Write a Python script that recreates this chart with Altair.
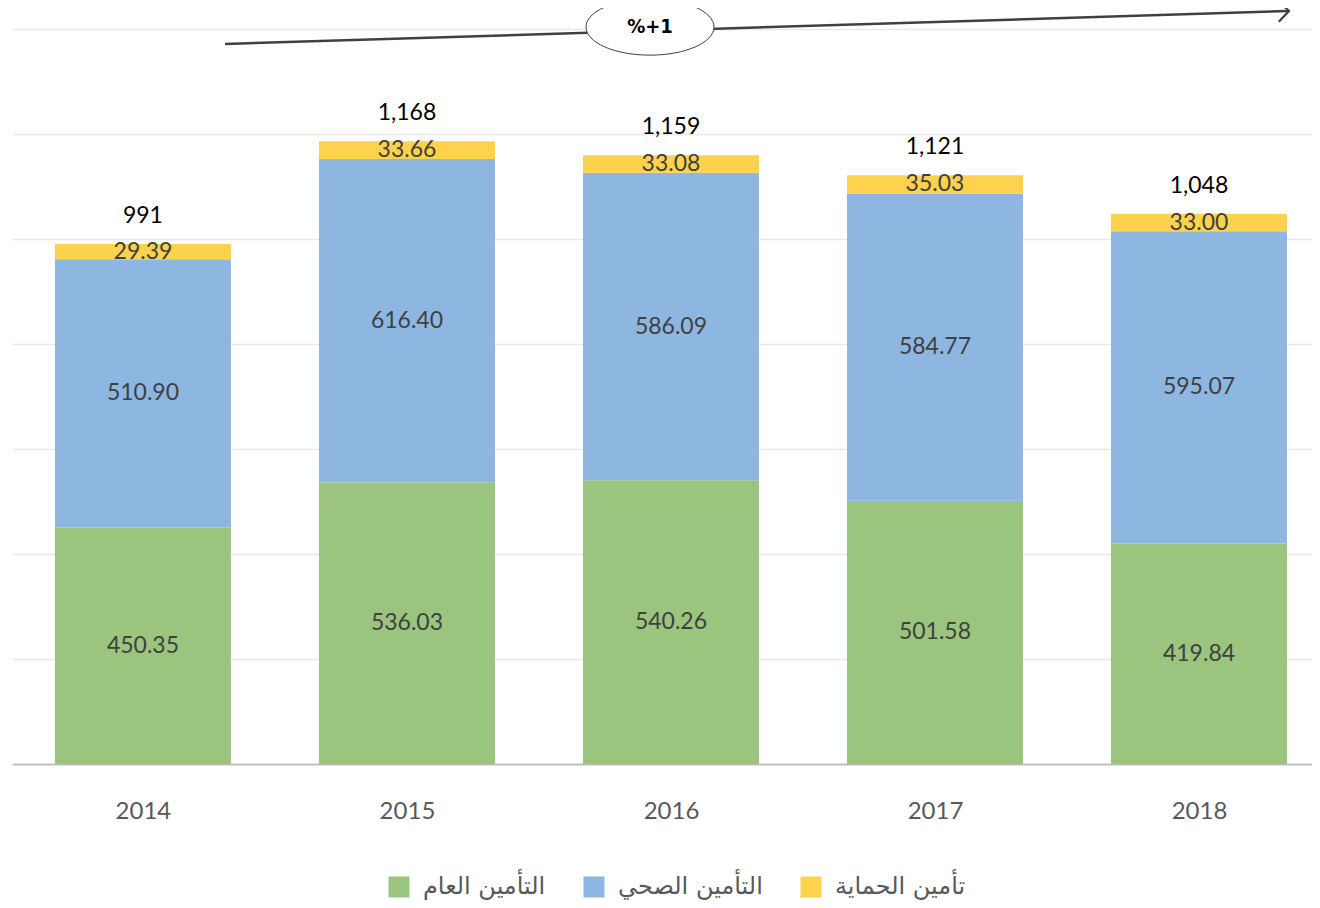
import altair as alt
import pandas as pd

years = [2014, 2015, 2016, 2017, 2018]
general = [450.35, 536.03, 540.26, 501.58, 419.84]
health = [510.90, 616.40, 586.09, 584.77, 595.07]
protection = [29.39, 33.66, 33.08, 35.03, 33.00]
total_labels = ["991", "1,168", "1,159", "1,121", "1,048"]

series_names = ["التأمين العام", "التأمين الصحي", "تأمين الحماية"]
series_colors = ["#9BC47E", "#8DB6E0", "#FFD24D"]

rows = []
for i, y in enumerate(years):
    for k, (name, vals) in enumerate(zip(series_names, [general, health, protection])):
        rows.append({"year": y, "series": name, "value": vals[i], "order": k})
df = pd.DataFrame(rows)

tot = pd.DataFrame({
    "year": years,
    "label": total_labels,
    "top": [g + h + p for g, h, p in zip(general, health, protection)],
})

W, H = 1300, 735

x_scale = alt.Scale(domain=[2013.504, 2018.428], nice=False, zero=False, padding=0)
x_enc = alt.X("year:Q", scale=x_scale,
              axis=alt.Axis(title=None, ticks=False, labelPadding=35, labelFontSize=24,
                            labelColor="#595959", labelFont="Lato", domainColor="#BFBFBF",
                            domainWidth=2, grid=False, labelAngle=0, format="d",
                            values=years, labelFlush=False))
y_scale = alt.Scale(domain=[0, 1400])

base = alt.Chart(df)

bars = base.mark_bar(size=176).encode(
    x=x_enc,
    y=alt.Y("value:Q", stack="zero", scale=y_scale,
            axis=alt.Axis(title=None, labels=False, ticks=False, domain=False,
                          grid=True, gridColor="#E8E8E8", gridWidth=1.5,
                          values=[200, 400, 600, 800, 1000, 1200, 1400])),
    color=alt.Color("series:N",
                    scale=alt.Scale(domain=series_names, range=series_colors),
                    legend=alt.Legend(title=None, orient="none", direction="horizontal",
                                      legendX=375, legendY=846, symbolType="square",
                                      symbolSize=440, symbolStrokeWidth=0,
                                      labelFontSize=24, labelFont="DejaVu Sans",
                                      labelColor="#595959", columnPadding=36,
                                      labelOffset=12, symbolOpacity=1)),
    order=alt.Order("order:Q", sort="ascending"),
)

seg_text = base.transform_stack(
    stack="value", groupby=["year"], as_=["y0", "y1"],
    sort=[alt.SortField("order", order="ascending")]
).transform_calculate(
    mid="(datum.y0 + datum.y1) / 2"
).mark_text(fontSize=23, font="Lato", color="#404040").encode(
    x=alt.X("year:Q", scale=x_scale),
    y=alt.Y("mid:Q", scale=y_scale),
    text=alt.Text("value:Q", format=".2f"),
)

tot_text = alt.Chart(tot).mark_text(fontSize=23, font="Lato", color="#000000", dy=-28).encode(
    x=alt.X("year:Q", scale=x_scale),
    y=alt.Y("top:Q", scale=y_scale),
    text="label:N",
)

one = pd.DataFrame({"t": ["%+1"]})
arrow_line = alt.Chart(one).mark_rule(color="#404040", strokeWidth=2.5).encode(
    x=alt.value(213), x2=alt.value(1276), y=alt.value(15), y2=alt.value(-18)
)
arrow_head = alt.Chart(one).mark_point(
    shape="M -1 -1 L 0 0 L -1 1", filled=False, color="#404040", strokeWidth=2.2,
    size=441, angle=358.2, opacity=1
).encode(x=alt.value(1277), y=alt.value(-18))
ellipse = alt.Chart(one).mark_point(
    shape="M -1 0 A 1 0.44 0 1 1 1 0 A 1 0.44 0 1 1 -1 0 Z", filled=True,
    fill="white", stroke="#404040", strokeWidth=1, size=16384, opacity=1
).encode(x=alt.value(638), y=alt.value(-2))
ell_text = alt.Chart(one).mark_text(fontSize=20, fontWeight="bold", font="DejaVu Sans Condensed",
                                    color="#000000").encode(
    x=alt.value(638), y=alt.value(-2), text="t:N"
)

chart = alt.layer(bars, seg_text, tot_text, arrow_line, arrow_head, ellipse, ell_text).properties(
    width=W, height=H,
    autosize=alt.AutoSizeParams(type="none"),
    padding={"left": 4, "top": 21, "right": 0, "bottom": 136},
).configure_view(stroke=None)

chart.save("out.html", embed_options={"renderer": "svg", "actions": False})
